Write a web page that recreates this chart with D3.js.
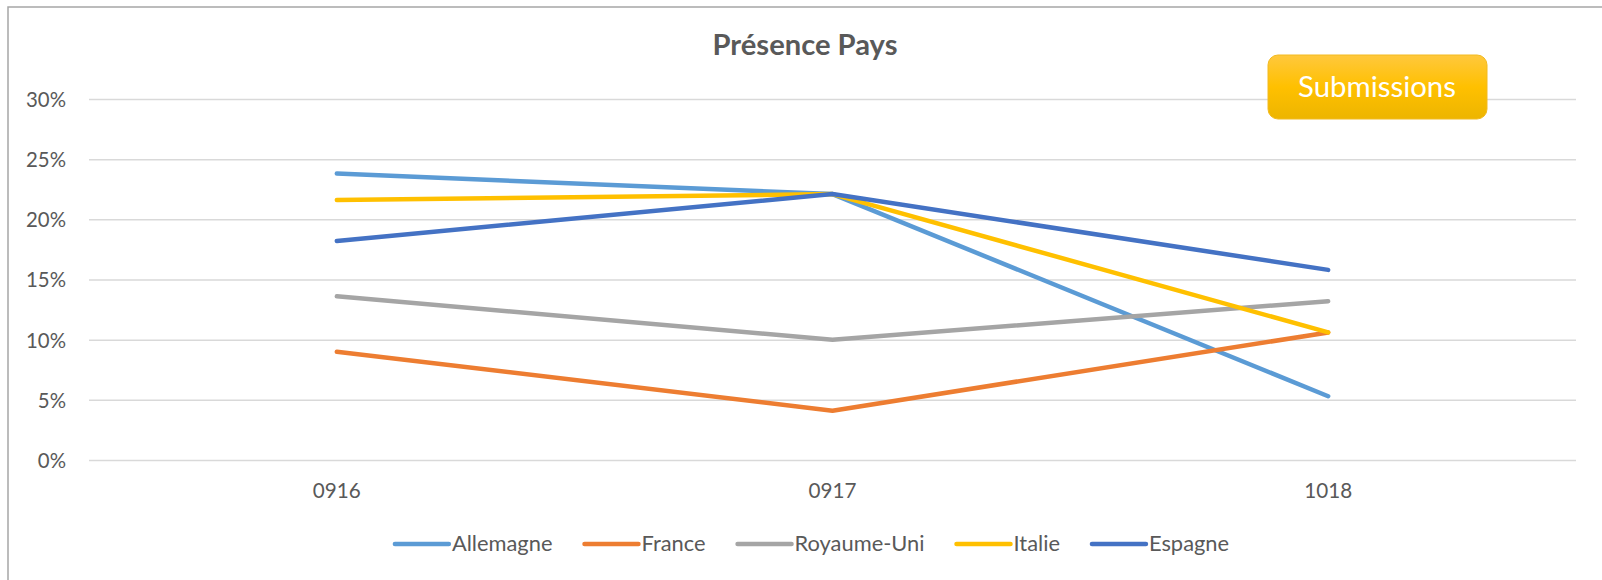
<!DOCTYPE html>
<html>
<head>
<meta charset="utf-8">
<script src="https://cdn.jsdelivr.net/npm/d3@7"></script>
<style>
  html, body { margin: 0; padding: 0; background: #fff; }
  svg { display: block; }
</style>
</head>
<body>
<svg id="chart" width="1602" height="580"></svg>
<script>
// ---- data ----
const categories = ["0916", "0917", "1018"];
const seriesNames = ["Allemagne", "France", "Royaume-Uni", "Italie", "Espagne"];
const allemagne = [0.238, 0.221, 0.053];
const france = [0.090, 0.041, 0.106];
const royaumeUni = [0.136, 0.100, 0.132];
const italie = [0.216, 0.221, 0.106];
const espagne = [0.182, 0.221, 0.158];
const yTicks = [0, 0.05, 0.10, 0.15, 0.20, 0.25, 0.30];
const title = "Présence Pays";
const buttonLabel = "Submissions";

const seriesValues = [allemagne, france, royaumeUni, italie, espagne];
const colors = ["#5B9BD5", "#ED7D31", "#A5A5A5", "#FFC000", "#4472C4"];
const FONT = "Lato, 'Open Sans', sans-serif";
const TEXT_COLOR = "#595959";

const svg = d3.select("#chart");

// measure helper to fit fonts to target widths
function fitSize(text, weight, targetW) {
  const t = svg.append("text").attr("font-family", FONT).attr("font-weight", weight)
    .attr("font-size", 100).text(text);
  const w = t.node().getComputedTextLength();
  t.remove();
  return 100 * targetW / w;
}

// chart border (left + top visible)
svg.append("rect")
  .attr("x", 8).attr("y", 7).attr("width", 1620).attr("height", 600)
  .attr("fill", "none").attr("stroke", "#A6A6A6").attr("stroke-width", 1.5);

// scales
const plot = { left: 89, right: 1576, top: 99, bottom: 460 };
const x = d3.scaleBand().domain(categories).range([plot.left, plot.right]);
const xc = c => x(c) + x.bandwidth() / 2;
const y = d3.scaleLinear().domain([0, 0.30]).range([plot.bottom, plot.top]);

// gridlines
const grid = d3.axisLeft(y).tickValues(yTicks).tickSize(-(plot.right - plot.left)).tickFormat("");
const gg = svg.append("g").attr("transform", `translate(${plot.left},0)`).call(grid);
gg.select(".domain").remove();
gg.selectAll(".tick line").attr("stroke", "#D9D9D9").attr("stroke-width", 1.5);

// y labels
const ySize = fitSize("30%", 400, 40);
const yAxis = d3.axisLeft(y).tickValues(yTicks).tickSize(0).tickPadding(0)
  .tickFormat(d => Math.round(d * 100) + "%");
const ya = svg.append("g").attr("transform", `translate(66,0)`).call(yAxis);
ya.select(".domain").remove();
ya.selectAll("text").attr("font-family", FONT).attr("font-size", ySize)
  .attr("fill", TEXT_COLOR).attr("dy", "0.36em");

// x labels
const xSize = fitSize("0916", 400, 48);
const xAxis = d3.axisBottom(x).tickSize(0).tickPadding(0);
const xa = svg.append("g").attr("transform", `translate(0,${plot.bottom})`).call(xAxis);
xa.select(".domain").remove();
xa.selectAll("text").attr("font-family", FONT).attr("font-size", xSize)
  .attr("fill", TEXT_COLOR).attr("dy", null).attr("y", 38);

// lines
const line = d3.line().x((d, i) => xc(categories[i])).y(d => y(d));
seriesValues.forEach((vals, i) => {
  svg.append("path").datum(vals).attr("d", line)
    .attr("fill", "none").attr("stroke", colors[i]).attr("stroke-width", 4.5)
    .attr("stroke-linecap", "round").attr("stroke-linejoin", "round");
});

// title
const tSize = fitSize(title, 700, 185);
svg.append("text").attr("x", 805).attr("y", 55).attr("text-anchor", "middle")
  .attr("font-family", FONT).attr("font-weight", 700).attr("font-size", tSize)
  .attr("fill", TEXT_COLOR).text(title);

// submissions button
const defs = svg.append("defs");
const grad = defs.append("linearGradient").attr("id", "btn").attr("x1", 0).attr("y1", 0).attr("x2", 0).attr("y2", 1);
grad.append("stop").attr("offset", "0%").attr("stop-color", "#FFC83D");
grad.append("stop").attr("offset", "50%").attr("stop-color", "#FFC000");
grad.append("stop").attr("offset", "100%").attr("stop-color", "#EDB500");
svg.append("rect").attr("x", 1268).attr("y", 55).attr("width", 219).attr("height", 64)
  .attr("rx", 10).attr("ry", 10).attr("fill", "url(#btn)")
  .attr("stroke", "#F2BA20").attr("stroke-width", 1);
const bSize = fitSize(buttonLabel, 400, 158);
svg.append("text").attr("x", 1377).attr("y", 97).attr("text-anchor", "middle")
  .attr("font-family", FONT).attr("font-size", bSize).attr("fill", "#FFFFFF").text(buttonLabel);

// legend
const lSize = fitSize("Royaume-Uni", 400, 130);
const lg = svg.append("g");
let cx = 0;
seriesNames.forEach((name, i) => {
  const g = lg.append("g").attr("transform", `translate(${cx},0)`);
  g.append("line").attr("x1", 0).attr("x2", 54).attr("y1", 544).attr("y2", 544)
    .attr("stroke", colors[i]).attr("stroke-width", 4.5).attr("stroke-linecap", "round");
  const t = g.append("text").attr("x", 57).attr("y", 551)
    .attr("font-family", FONT).attr("font-size", lSize).attr("fill", TEXT_COLOR).text(name);
  const w = t.node().getComputedTextLength();
  cx += 57 + w + 32;
});
const totalW = cx - 32;
lg.attr("transform", `translate(${812 - totalW / 2},0)`);
</script>
</body>
</html>
